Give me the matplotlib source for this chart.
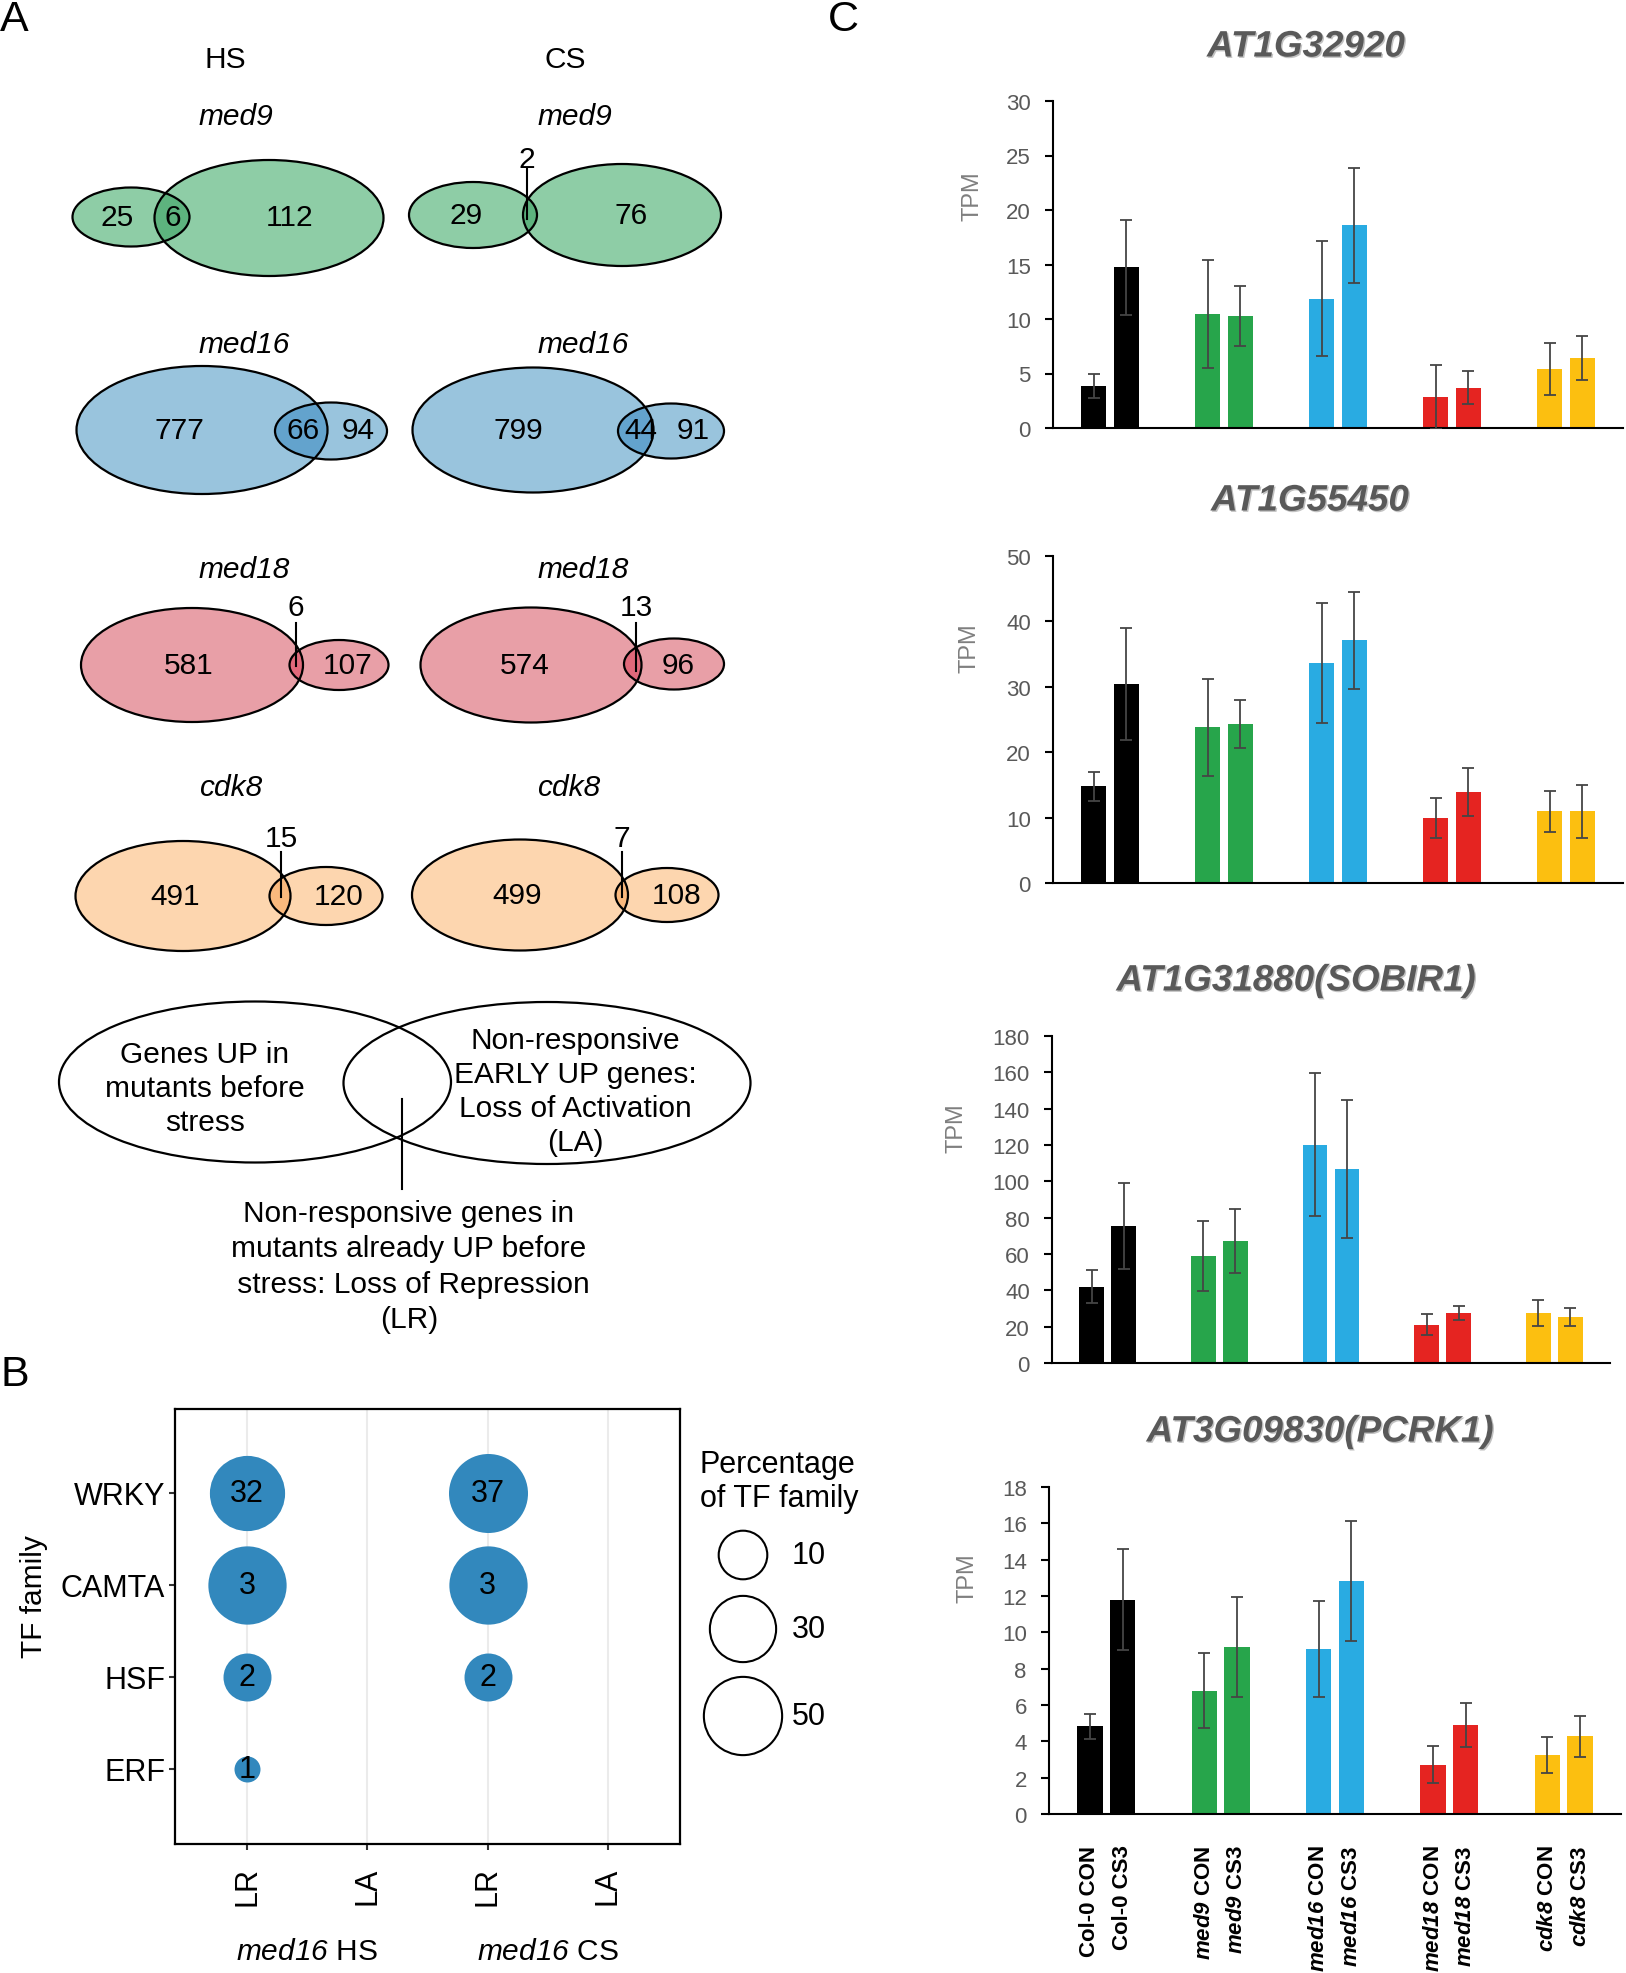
import numpy as np
import matplotlib
matplotlib.use('Agg')
import matplotlib.pyplot as plt
from matplotlib.patches import Ellipse
from matplotlib import patheffects

plt.rcParams['font.family'] = ['Liberation Sans', 'DejaVu Sans']
plt.rcParams['mathtext.fontset'] = 'custom'
plt.rcParams['mathtext.rm'] = 'Liberation Sans'
plt.rcParams['mathtext.tt'] = 'Liberation Sans:italic:bold'   # bold italic genotypes (panel C)
plt.rcParams['mathtext.sf'] = 'Liberation Sans:italic'        # plain italic genotypes (panel B)

# ---------------- data ----------------
# A: Venn counts (left set, shared, right set)
mutants = ['med9', 'med16', 'med18', 'cdk8']
hs_left = [25, 777, 581, 491]
hs_shared = [6, 66, 6, 15]
hs_right = [112, 94, 107, 120]
cs_left = [29, 799, 574, 499]
cs_shared = [2, 44, 13, 7]
cs_right = [76, 91, 96, 108]
venn_light = ['#8ecda6', '#99c4dd', '#e89fa7', '#fdd6af']
venn_dark = ['#5db37e', '#63a3cd', '#e0697a', '#fab97d']

# B: TF families among LR / LA genes
tf_families = ['WRKY', 'CAMTA', 'HSF', 'ERF']
b_columns = ['LR', 'LA', 'LR', 'LA']
b_groups = ['med16', 'med16']
b_stress = ['HS', 'CS']
hs_lr_genes = [32, 3, 2, 1]
hs_lr_pct = [44.4, 50.0, 9.5, 0.8]
cs_lr_genes = [37, 3, 2, 0]
cs_lr_pct = [51.4, 50.0, 9.5, 0.0]
legend_pct = [10, 30, 50]

# C: TPM (mean, error)
genotypes = ['Col-0', 'Col-0', 'med9', 'med9', 'med16', 'med16', 'med18', 'med18', 'cdk8', 'cdk8']
conditions = ['CON', 'CS3'] * 5
bar_colors = ['#000000', '#000000', '#27a54b', '#27a54b', '#29abe2', '#29abe2',
              '#e52421', '#e52421', '#fcbf10', '#fcbf10']
gene_titles = ['AT1G32920', 'AT1G55450', 'AT1G31880(SOBIR1)', 'AT3G09830(PCRK1)']
at1g32920_mean = [3.85, 14.74, 10.47, 10.25, 11.84, 18.61, 2.84, 3.69, 5.43, 6.44]
at1g32920_err = [1.12, 4.33, 4.94, 2.75, 5.28, 5.28, 2.9, 1.5, 2.38, 2.04]
at1g55450_mean = [14.8, 30.42, 23.8, 24.31, 33.62, 37.08, 9.92, 13.89, 10.99, 10.99]
at1g55450_err = [2.24, 8.54, 7.38, 3.72, 9.16, 7.38, 3.05, 3.66, 3.15, 4.07]
sobir1_mean = [41.97, 75.33, 58.83, 66.9, 120.2, 106.7, 21.08, 27.49, 27.31, 25.29]
sobir1_err = [9.17, 23.64, 19.25, 17.6, 39.3, 38.1, 5.86, 3.85, 7.15, 4.95]
pcrk1_mean = [4.82, 11.79, 6.79, 9.19, 9.09, 12.84, 2.72, 4.9, 3.25, 4.27]
pcrk1_err = [0.69, 2.78, 2.06, 2.76, 2.66, 3.31, 1.01, 1.23, 1.0, 1.13]
y_max = [30, 50, 180, 18]
y_step = [5, 10, 20, 2]

# ---------------- layout helpers (pixels from top-left) ----------------
W, H = 1626, 1974
fig = plt.figure(figsize=(W / 100, H / 100), dpi=100)


def fig_xy(x, y):
    return x / W, 1 - y / H


def fig_box(x0, y0, x1, y1):
    return [x0 / W, 1 - y1 / H, (x1 - x0) / W, (y1 - y0) / H]


FS_A = 21.5

# ================= panel A =================
ax_a = fig.add_axes(fig_box(0, 0, 813, 1350))
ax_a.set_xlim(0, 813)
ax_a.set_ylim(1350, 0)
ax_a.axis('off')

ax_a.text(225, 60, 'HS', ha='center', va='center', fontsize=FS_A)
ax_a.text(565, 60, 'CS', ha='center', va='center', fontsize=FS_A)

# ellipse geometry (cx, cy, w, h), number x positions, title pos, callout (x, ytext, yline0, yline1)
hs_layout = [
    dict(l=(131, 218, 117, 59), r=(269, 219, 229, 116), nx=(117, 173, 290), t=(236, 117), call=None),
    dict(l=(202, 431, 251, 128), r=(331, 432, 112, 57), nx=(179, 303, 358), t=(244, 345), call=None),
    dict(l=(192, 666, 222, 114), r=(339, 666, 99, 50), nx=(189, None, 348), t=(244, 570), call=(296, 608, 624, 667)),
    dict(l=(183, 897, 215, 110), r=(326, 897, 113, 58), nx=(175, None, 339), t=(231, 788), call=(281, 839, 853, 898)),
]
cs_layout = [
    dict(l=(473, 216, 128, 66), r=(622, 216, 198, 102), nx=(466, None, 631), t=(575, 117), call=(527, 160, 170, 220)),
    dict(l=(533, 431, 241, 125), r=(671, 432, 106, 55), nx=(518, 641, 693), t=(583, 345), call=None),
    dict(l=(531, 666, 221, 115), r=(674, 665, 100, 51), nx=(525, None, 678), t=(583, 570), call=(636, 608, 624, 672)),
    dict(l=(520, 896, 216, 111), r=(667, 896, 103, 54), nx=(517, None, 677), t=(569, 788), call=(622, 839, 853, 898)),
]


def draw_venn(ax, lay, counts, light, dark, name):
    l, r = lay['l'], lay['r']
    ax.add_patch(Ellipse(l[:2], l[2], l[3], facecolor=light, edgecolor='none'))
    ax.add_patch(Ellipse(r[:2], r[2], r[3], facecolor=light, edgecolor='none'))
    ov = Ellipse(l[:2], l[2], l[3], facecolor=dark, edgecolor='none')
    ax.add_patch(ov)
    ov.set_clip_path(Ellipse(r[:2], r[2], r[3], transform=ax.transData))
    for e in (l, r):
        ax.add_patch(Ellipse(e[:2], e[2], e[3], facecolor='none', edgecolor='black', lw=1.6))
    cy = l[1]
    ax.text(lay['nx'][0], cy, str(counts[0]), ha='center', va='center', fontsize=FS_A)
    ax.text(lay['nx'][2], cy, str(counts[2]), ha='center', va='center', fontsize=FS_A)
    if lay['call'] is None:
        ax.text(lay['nx'][1], cy, str(counts[1]), ha='center', va='center', fontsize=FS_A)
    else:
        cx, ty, y0, y1 = lay['call']
        ax.text(cx, ty, str(counts[1]), ha='center', va='center', fontsize=FS_A)
        ax.plot([cx, cx], [y0, y1], color='black', lw=1.5)
    ax.text(lay['t'][0], lay['t'][1], name, ha='center', va='center', fontsize=FS_A, style='italic')


for i, m in enumerate(mutants):
    draw_venn(ax_a, hs_layout[i], (hs_left[i], hs_shared[i], hs_right[i]), venn_light[i], venn_dark[i], m)
    draw_venn(ax_a, cs_layout[i], (cs_left[i], cs_shared[i], cs_right[i]), venn_light[i], venn_dark[i], m)

# schematic
ax_a.add_patch(Ellipse((255, 1083), 392, 161, facecolor='none', edgecolor='black', lw=1.6))
ax_a.add_patch(Ellipse((547, 1084), 407, 162, facecolor='none', edgecolor='black', lw=1.6))
ax_a.plot([402, 402], [1100, 1190], color='black', lw=1.5)
ax_a.text(205, 1089, 'Genes UP in\nmutants before\nstress', ha='center', va='center',
          multialignment='center', fontsize=FS_A, linespacing=1.28)
ax_a.text(575, 1092, 'Non-responsive\nEARLY UP genes:\nLoss of Activation\n(LA)', ha='center',
          va='center', multialignment='center', fontsize=FS_A, linespacing=1.28)
ax_a.text(409, 1267, 'Non-responsive genes in\nmutants already UP before\n stress: Loss of Repression\n(LR)',
          ha='center', va='center', multialignment='center', fontsize=FS_A, linespacing=1.32)

# ================= panel B =================
FS_B = 22
ax_b = fig.add_axes(fig_box(175, 1410, 680, 1845))
bx = np.arange(len(b_columns))
by = np.arange(len(tf_families))[::-1]   # WRKY on top

pct_all = [v for v in hs_lr_pct + cs_lr_pct if v > 0]
vmin, vmax = min(pct_all), max(pct_all)


def bubble_s(v):
    # area scale like ggplot scale_size: diameter in px, then points^2
    d = 26 + 53 * np.sqrt(max(v - vmin, 0) / (vmax - vmin))
    return (d * 0.72) ** 2


for col, genes, pct in [(0, hs_lr_genes, hs_lr_pct), (2, cs_lr_genes, cs_lr_pct)]:
    for j in range(len(tf_families)):
        if genes[j] == 0:
            continue
        ax_b.scatter(bx[col], by[j], s=bubble_s(pct[j]), color='#3288bd', lw=0, zorder=3)
        ax_b.text(bx[col], by[j], str(genes[j]), ha='center', va='center', fontsize=FS_B, zorder=4)

ax_b.set_xlim(-0.6, 3.6)
ax_b.set_ylim(-0.82, 3.91)
ax_b.set_xticks(bx)
ax_b.set_xticklabels(b_columns, rotation=90, fontsize=FS_B)
ax_b.set_yticks(by)
ax_b.set_yticklabels(tf_families, fontsize=FS_B)
ax_b.tick_params(axis='both', length=4, width=1.5, color='#333333')
ax_b.tick_params(axis='x', pad=12)
ax_b.tick_params(axis='y', pad=3)
ax_b.grid(axis='x', color='#ebebeb', lw=1.5, zorder=0)
ax_b.set_axisbelow(True)
for sp in ax_b.spines.values():
    sp.set_linewidth(1.6)
ax_b.set_ylabel('TF family', fontsize=21.5)
ax_b.yaxis.set_label_coords((48 - 175) / 505, (1845 - 1597) / 435)
for k in range(len(b_groups)):
    ax_b.text(2 * k + 0.5, (1845 - 1952) / 435, r'$\mathsf{' + b_groups[k] + '}$ ' + b_stress[k],
              transform=ax_b.get_xaxis_transform(), ha='center', va='center', fontsize=21.5)

# size legend
ax_leg = fig.add_axes(fig_box(690, 1420, 813, 1780))
ax_leg.set_xlim(690, 813)
ax_leg.set_ylim(1780, 1420)
ax_leg.axis('off')
leg_y = [1556, 1630, 1717]
for v, yy in zip(legend_pct, leg_y):
    ax_leg.scatter(743, yy, s=bubble_s(v), facecolors='none', edgecolors='black', lw=1.5)
    ax_leg.text(792, yy, str(v), ha='left', va='center', fontsize=FS_B)
ax_leg.text(700, 1482, 'Percentage\nof TF family', ha='left', va='center', fontsize=FS_B, linespacing=1.2)

# ================= panel C =================
means = [at1g32920_mean, at1g55450_mean, sobir1_mean, pcrk1_mean]
errs = [at1g32920_err, at1g55450_err, sobir1_err, pcrk1_err]
chart_boxes = [(1053, 102, 1623, 429), (1053, 557, 1623, 884), (1052, 1037, 1610, 1364), (1049, 1488, 1621, 1815)]
title_pos = [(1306, 48), (1310, 502), (1296, 982), (1320, 1433)]
tpm_pos = [(971, 196), (968, 648), (955, 1128), (966, 1578)]
xpos = np.array([(i // 2) * 3.5 + (i % 2) for i in range(len(genotypes))])

for k in range(4):
    x0, y0, x1, y1 = chart_boxes[k]
    ax = fig.add_axes(fig_box(x0, y0, x1, y1))
    ax.bar(xpos, means[k], width=0.78, color=bar_colors, zorder=2)
    ax.errorbar(xpos, means[k], yerr=errs[k], fmt='none', ecolor='#454545', elinewidth=1.3,
                capsize=4.5, capthick=1.3, zorder=3)
    ax.set_xlim(-1.25, 16.25)
    ax.set_ylim(0, y_max[k])
    ax.set_yticks(np.arange(0, y_max[k] + 0.1, y_step[k]))
    ax.tick_params(axis='y', direction='out', length=6, width=1.5, color='black',
                   labelcolor='#595959', labelsize=16, pad=10)
    for s in ('top', 'right'):
        ax.spines[s].set_visible(False)
    ax.spines['left'].set_linewidth(1.5)
    ax.spines['bottom'].set_linewidth(1.5)
    if k == 3:
        labels = []
        for g, c in zip(genotypes, conditions):
            if g == 'Col-0':
                labels.append(g + ' ' + c)
            else:
                labels.append(r'$\mathtt{' + g + '}$ ' + c)
        ax.set_xticks(xpos)
        ax.set_xticklabels(labels, rotation=90, fontsize=16, fontweight='bold')
        ax.tick_params(axis='x', length=0, pad=22)
    else:
        ax.set_xticks([])
    ax.set_ylabel('TPM', fontsize=17, color='#7f7f7f')
    # label anchor sits on the right side of the rotated text
    ax.yaxis.set_label_coords((tpm_pos[k][0] + 12 - x0) / (x1 - x0), (y1 - tpm_pos[k][1]) / (y1 - y0))
    tx, ty = fig_xy(*title_pos[k])
    fig.text(tx, ty, gene_titles[k], ha='center', va='center', fontsize=26.5, fontweight='bold',
             style='italic', color='#595959',
             path_effects=[patheffects.SimplePatchShadow(offset=(1, -1), shadow_rgbFace='#9a9a9a', alpha=0.6),
                           patheffects.Normal()])

# panel letters
for letter, (lx, ly) in [('A', (0, 0)), ('B', (0, 1355)), ('C', (828, 0))]:
    fx, fy = fig_xy(lx, ly)
    fig.text(fx, fy, letter, ha='left', va='top', fontsize=31)

fig.savefig('out.png', dpi=100)
